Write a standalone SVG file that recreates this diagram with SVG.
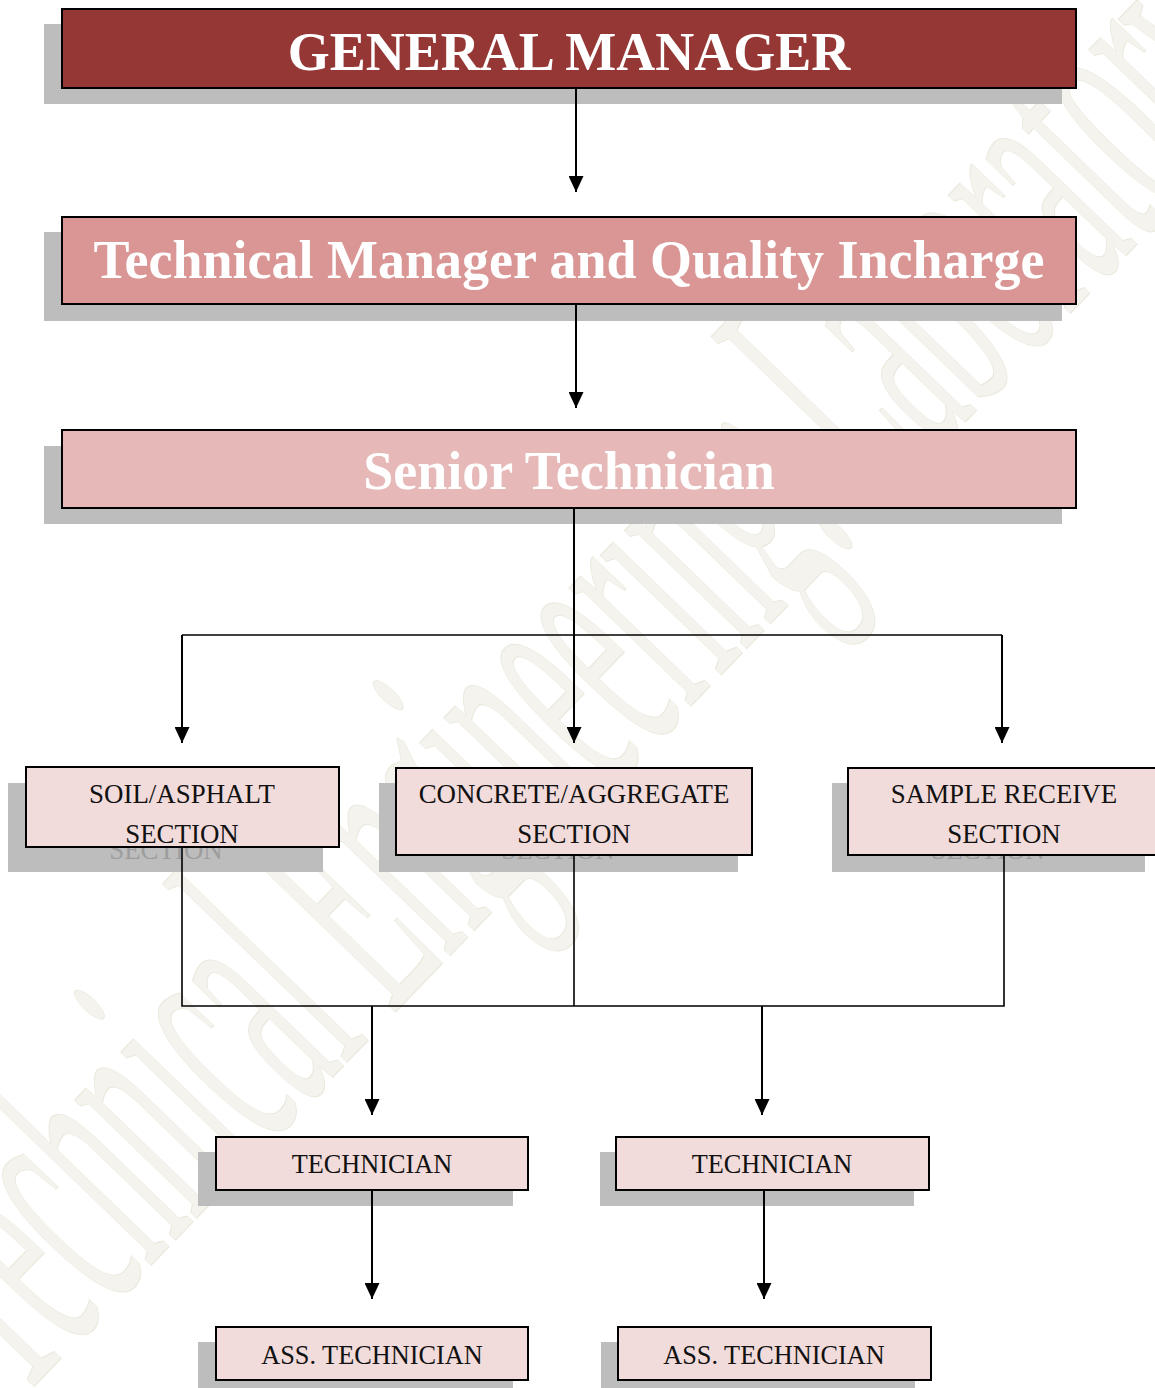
<svg xmlns="http://www.w3.org/2000/svg" width="1155" height="1388" viewBox="0 0 1155 1388">
  <style>
    .shadow { fill: #bdbdbd; }
    .box { stroke: #000; stroke-width: 2; }
    .gm { fill: #953735; }
    .tm { fill: #d99694; }
    .st { fill: #e6b9b8; }
    .sec { fill: #f2dcdb; }
    .head { font-family: "Liberation Serif", "Times New Roman", serif; font-weight: bold; font-size: 54px; fill: #fff; text-anchor: middle; }
    .lbl { font-family: "Liberation Serif", "Times New Roman", serif; font-size: 26.3px; fill: #111; text-anchor: middle; }
    .lbl2 { font-family: "Liberation Serif", "Times New Roman", serif; font-size: 26.9px; fill: #111; text-anchor: middle; }
    .ghost { font-family: "Liberation Serif", "Times New Roman", serif; font-size: 26.9px; fill: #9d9d9d; text-anchor: middle; }
    .arrow { stroke: #000; stroke-width: 2; fill: none; marker-end: url(#tip); }
    .line { stroke: #000; stroke-width: 1.6; fill: none; }
    .wm { font-family: "Liberation Serif", "Times New Roman", serif; font-size: 370px; fill: #f4f3ed; stroke: #eae8dc; stroke-width: 1.2; }
  </style>
  <defs>
    <marker id="tip" markerUnits="userSpaceOnUse" markerWidth="16" markerHeight="15" refX="16" refY="7.5" orient="auto">
      <path d="M0,0 L16,7.5 L0,15 Z" fill="#000"/>
    </marker>
  </defs>

  <rect width="1155" height="1388" fill="#fff"/>

  <!-- background watermark -->
  <g id="watermark">
    <text class="wm" x="0" y="0" textLength="1820" lengthAdjust="spacingAndGlyphs" transform="translate(20,1401) rotate(-46)">Technical Engineering: Laboratory</text>
  </g>

  <!-- nodes -->
  <g id="general-manager">
    <rect class="shadow" x="44" y="24" width="1018" height="80"/>
    <rect class="box gm" x="62" y="9" width="1014" height="79"/>
    <text class="head" x="569" y="70">GENERAL MANAGER</text>
  </g>

  <g id="technical-manager">
    <rect class="shadow" x="44" y="232" width="1018" height="89"/>
    <rect class="box tm" x="62" y="217" width="1014" height="87"/>
    <text class="head" x="569" y="278">Technical Manager and Quality Incharge</text>
  </g>

  <g id="senior-technician">
    <rect class="shadow" x="44" y="446" width="1018" height="78"/>
    <rect class="box st" x="62" y="430" width="1014" height="78"/>
    <text class="head" x="569" y="489">Senior Technician</text>
  </g>

  <g id="soil-asphalt">
    <rect class="shadow" x="8" y="783" width="315" height="89"/>
    <text class="ghost" x="166" y="859">SECTION</text>
    <rect class="box sec" x="26" y="767" width="313" height="80"/>
    <text class="lbl2" x="182" y="803">SOIL/ASPHALT</text>
    <text class="lbl2" x="182" y="843">SECTION</text>
  </g>

  <g id="concrete-aggregate">
    <rect class="shadow" x="379" y="783" width="359" height="89"/>
    <text class="ghost" x="558" y="859">SECTION</text>
    <rect class="box sec" x="396" y="768" width="356" height="87"/>
    <text class="lbl2" x="574" y="803">CONCRETE/AGGREGATE</text>
    <text class="lbl2" x="574" y="843">SECTION</text>
  </g>

  <g id="sample-receive">
    <rect class="shadow" x="832" y="783" width="313" height="89"/>
    <text class="ghost" x="988" y="859">SECTION</text>
    <rect class="box sec" x="848" y="768" width="314" height="87"/>
    <text class="lbl2" x="1004" y="803">SAMPLE RECEIVE</text>
    <text class="lbl2" x="1004" y="843">SECTION</text>
  </g>

  <g id="technician-1">
    <rect class="shadow" x="198" y="1152" width="315" height="54"/>
    <rect class="box sec" x="216" y="1137" width="312" height="53"/>
    <text class="lbl" x="372" y="1173">TECHNICIAN</text>
  </g>

  <g id="technician-2">
    <rect class="shadow" x="600" y="1152" width="314" height="54"/>
    <rect class="box sec" x="616" y="1137" width="313" height="53"/>
    <text class="lbl" x="772" y="1173">TECHNICIAN</text>
  </g>

  <g id="ass-technician-1">
    <rect class="shadow" x="198" y="1342" width="315" height="54"/>
    <rect class="box sec" x="216" y="1327" width="312" height="53"/>
    <text class="lbl" x="372" y="1364">ASS. TECHNICIAN</text>
  </g>

  <g id="ass-technician-2">
    <rect class="shadow" x="601" y="1342" width="314" height="54"/>
    <rect class="box sec" x="618" y="1327" width="313" height="53"/>
    <text class="lbl" x="774" y="1364">ASS. TECHNICIAN</text>
  </g>

  <!-- connectors -->
  <g id="connectors">
    <path class="arrow" d="M576,89 V192"/>
    <path class="arrow" d="M576,305 V408"/>
    <path class="arrow" d="M574,509 V743"/>
    <path class="line" d="M182,635 H1002"/>
    <path class="arrow" d="M182,635 V743"/>
    <path class="arrow" d="M1002,635 V743"/>

    <path class="line" d="M182,848 V1006 H1004 V856"/>
    <path class="line" d="M574,856 V1006"/>
    <path class="arrow" d="M372,1006 V1115"/>
    <path class="arrow" d="M762,1006 V1115"/>

    <path class="arrow" d="M372,1191 V1299"/>
    <path class="arrow" d="M764,1191 V1299"/>
  </g>
</svg>
